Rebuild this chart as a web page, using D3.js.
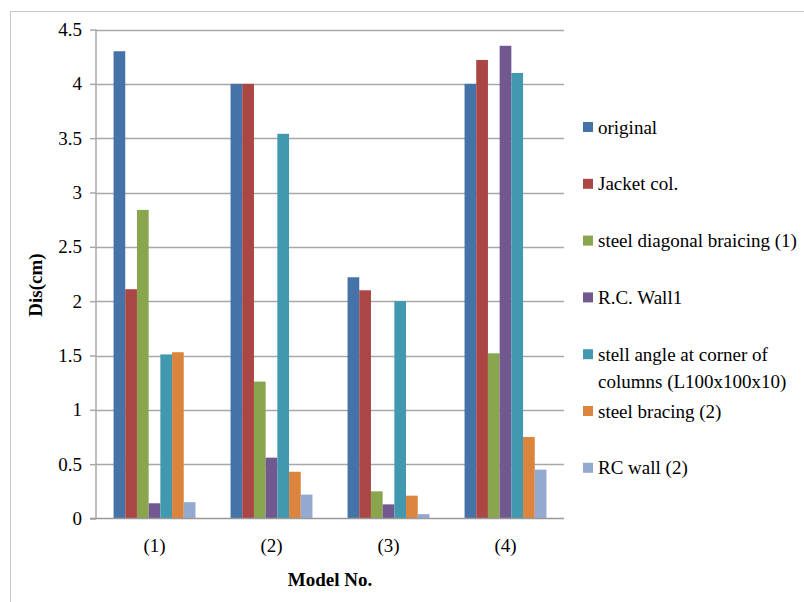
<!DOCTYPE html>
<html>
<head>
<meta charset="utf-8">
<script src="https://cdn.jsdelivr.net/npm/d3@7"></script>
<style>
  html, body { margin: 0; padding: 0; background: #fff; }
  svg { display: block; }
  text { font-family: "Liberation Serif", "Times New Roman", serif; fill: #000; }
</style>
</head>
<body>
<svg id="chart" width="804" height="602"></svg>
<script>
// Model categories along the x axis
const models = ["(1)", "(2)", "(3)", "(4)"];

// Retrofit cases (series) and their legend labels
const seriesNames = [
  "original",
  "Jacket col.",
  "steel diagonal braicing (1)",
  "R.C. Wall1",
  "stell angle at corner of columns (L100x100x10)",
  "steel bracing (2)",
  "RC wall (2)"
];

// Displacement (cm) per series, one value per model
const original      = [4.30, 4.00, 2.22, 4.00];
const jacketCol     = [2.11, 4.00, 2.10, 4.22];
const steelDiag1    = [2.84, 1.26, 0.25, 1.52];
const rcWall1       = [0.14, 0.56, 0.13, 4.35];
const stellAngle    = [1.51, 3.54, 2.00, 4.10];
const steelBracing2 = [1.53, 0.43, 0.21, 0.75];
const rcWall2       = [0.15, 0.22, 0.04, 0.45];

const seriesValues = [original, jacketCol, steelDiag1, rcWall1, stellAngle, steelBracing2, rcWall2];

// Y axis ticks
const yTicks = [0, 0.5, 1, 1.5, 2, 2.5, 3, 3.5, 4, 4.5];

const colors = ["#4572A7", "#AA4643", "#89A54E", "#71588F", "#4198AF", "#DB843D", "#93A9CF"];

const serif = "'Liberation Serif', 'Times New Roman', serif";
const svg = d3.select("#chart");

// outer chart border
svg.append("rect")
  .attr("x", 10.5).attr("y", 11.5)
  .attr("width", 820).attr("height", 620)
  .attr("fill", "none").attr("stroke", "#c8c8c8").attr("stroke-width", 1);

const plot = { left: 96, right: 564, top: 29.5, bottom: 518.5 };

const x0 = d3.scaleBand().domain(models).range([plot.left, plot.right]).paddingInner(0).paddingOuter(0);
const gap = x0.bandwidth() * 0.3;
const x1 = d3.scaleBand().domain(d3.range(seriesNames.length))
  .range([gap / 2, x0.bandwidth() - gap / 2]).padding(0);
const y = d3.scaleLinear().domain([0, 4.5]).range([plot.bottom, plot.top]);

// horizontal gridlines
svg.append("g").selectAll("line").data(yTicks.filter(d => d > 0)).join("line")
  .attr("x1", plot.left).attr("x2", plot.right)
  .attr("y1", d => Math.round(y(d)) + 0.5).attr("y2", d => Math.round(y(d)) + 0.5)
  .attr("stroke", "#a8a8a8").attr("stroke-width", 1.5);

// bars
const groups = svg.append("g").selectAll("g").data(models).join("g")
  .attr("transform", d => `translate(${x0(d)},0)`);
groups.selectAll("rect")
  .data((m, mi) => seriesValues.map((vals, si) => ({ si, v: vals[mi] })))
  .join("rect")
  .attr("x", d => x1(d.si))
  .attr("width", x1.bandwidth())
  .attr("y", d => y(d.v))
  .attr("height", d => y(0) - y(d.v))
  .attr("fill", d => colors[d.si]);

// y axis
const yAxis = d3.axisLeft(y).tickValues(yTicks).tickSize(6).tickPadding(8)
  .tickFormat(d3.format(""));
const gy = svg.append("g").attr("transform", `translate(${plot.left},0)`).call(yAxis);
gy.select(".domain").attr("stroke", "#a8a8a8").attr("stroke-width", 1.5).attr("d", `M0,${plot.top}V${plot.bottom}`);
gy.selectAll(".tick line").attr("stroke", "#a8a8a8").attr("stroke-width", 1.5);
gy.selectAll(".tick text").attr("font-size", 19).style("font-family", serif).attr("fill", "#000");

// x axis
const xAxis = d3.axisBottom(x0).tickSize(0).tickPadding(20);
const gx = svg.append("g").attr("transform", `translate(0,${plot.bottom})`).call(xAxis);
gx.select(".domain").attr("stroke", "#999").attr("stroke-width", 1.5).attr("d", `M${plot.left - 6},0H${plot.right}`);
gx.selectAll(".tick text").attr("font-size", 19).style("font-family", serif).attr("fill", "#000");

// axis titles
svg.append("text")
  .attr("transform", `translate(${42},${285}) rotate(-90)`)
  .attr("text-anchor", "middle")
  .attr("font-size", 19).attr("font-weight", "bold")
  .style("font-family", serif)
  .text("Dis(cm)");
svg.append("text")
  .attr("x", 330).attr("y", 586)
  .attr("text-anchor", "middle")
  .attr("font-size", 19).attr("font-weight", "bold")
  .style("font-family", serif)
  .text("Model No.");

// legend
const legendLines = [
  ["original"],
  ["Jacket col."],
  ["steel diagonal braicing (1)"],
  ["R.C. Wall1"],
  ["stell angle at corner of", "columns (L100x100x10)"],
  ["steel bracing (2)"],
  ["RC wall (2)"]
];
const legend = svg.append("g").selectAll("g").data(seriesNames).join("g")
  .attr("transform", (d, i) => `translate(583,${127 + i * 56.8})`);
legend.append("rect")
  .attr("x", 0).attr("y", -5).attr("width", 10).attr("height", 10)
  .attr("fill", (d, i) => colors[i]);
legend.append("text")
  .attr("x", 15).attr("y", 6.5)
  .attr("font-size", 19)
  .style("font-family", serif)
  .selectAll("tspan").data((d, i) => legendLines[i]).join("tspan")
  .attr("x", 15).attr("dy", (d, j) => j === 0 ? 0 : 27)
  .text(d => d);
</script>
</body>
</html>
